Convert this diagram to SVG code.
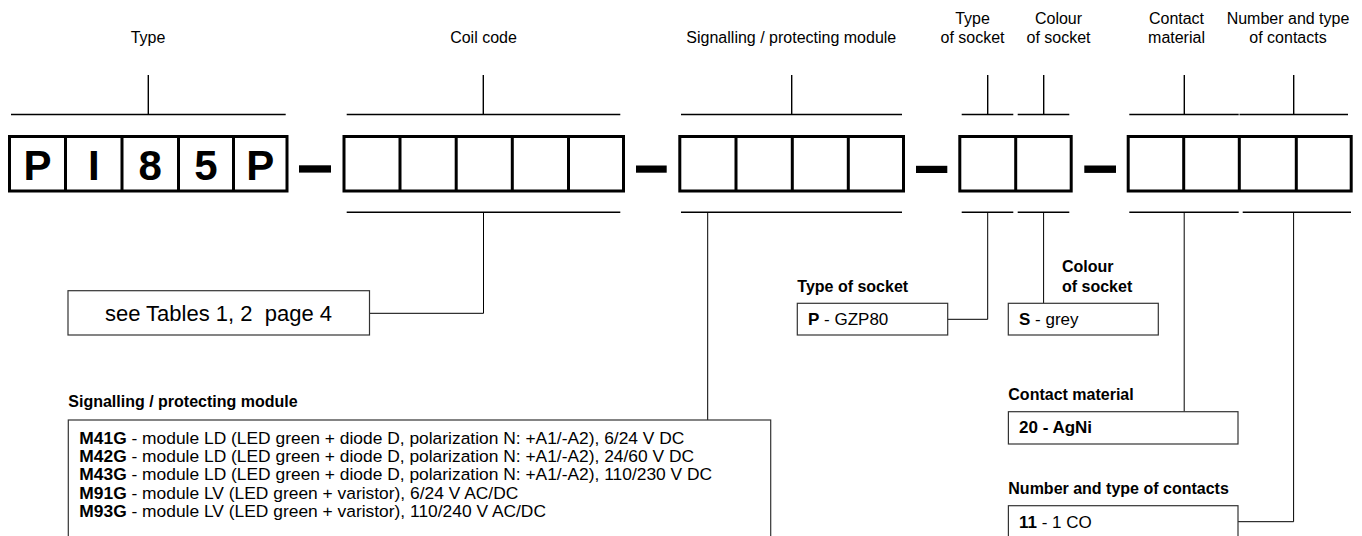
<svg xmlns="http://www.w3.org/2000/svg" width="1362" height="536" viewBox="0 0 1362 536">
<style>
  text { font-family: "Liberation Sans", Arial, Helvetica, sans-serif; fill: #000; }
  .lbl { font-size: 16px; text-anchor: middle; }
  .hd { font-size: 16px; font-weight: bold; }
  .bx { font-size: 17px; }
  .ml { font-size: 17.4px; }
  .b { font-weight: bold; }
  .big { font-size: 42px; font-weight: bold; text-anchor: middle; }
  .cells { fill: #fff; stroke: #000; stroke-width: 3; }
  .div { stroke: #000; stroke-width: 3; }
  .rule { stroke: #000; stroke-width: 1.4; fill: none; }
  .con { stroke: #000; stroke-width: 1; fill: none; }
  .box { fill: #fff; stroke: #333; stroke-width: 1.2; }
  .dash { fill: #000; }
</style>
<rect width="1362" height="536" fill="#fff"/>

<!-- code fields -->
<g id="type">
  <text class="lbl" x="148" y="43">Type</text>
  <path class="rule" d="M11 114.5H285.7M148.3 75V114.5"/>
  <rect class="cells" x="9.5" y="136.5" width="277.5" height="54.5"/>
  <path class="div" d="M65.5 136.5V191M122 136.5V191M178.5 136.5V191M233.5 136.5V191"/>
  <text class="big" x="37.5" y="180">P</text>
  <text class="big" x="93.8" y="180">I</text>
  <text class="big" x="150.2" y="180">8</text>
  <text class="big" x="206" y="180">5</text>
  <text class="big" x="260.3" y="180">P</text>
</g>
<rect id="dash1" class="dash" x="299" y="165.3" width="32" height="7.3"/>

<g id="coil">
  <text class="lbl" x="483.5" y="43">Coil code</text>
  <path class="rule" d="M346.7 114.5H620.3M483.3 75V114.5M346.7 212.3H620.3"/>
  <rect class="cells" x="344" y="136.5" width="279.5" height="54.5"/>
  <path class="div" d="M400 136.5V191M456.2 136.5V191M512.3 136.5V191M568.5 136.5V191"/>
</g>
<rect id="dash2" class="dash" x="636" y="165.5" width="30.7" height="7.2"/>

<g id="module">
  <text class="lbl" x="791.3" y="43">Signalling / protecting module</text>
  <path class="rule" d="M681 114.5H902M791.7 75V114.5M681 212.3H902"/>
  <rect class="cells" x="679.8" y="136.5" width="223.7" height="54.5"/>
  <path class="div" d="M736 136.5V191M792.3 136.5V191M848.3 136.5V191"/>
</g>
<rect id="dash3" class="dash" x="916" y="165.8" width="31.3" height="7.2"/>

<g id="socket-type">
  <text class="lbl" x="972.5" y="24">Type</text>
  <text class="lbl" x="972.5" y="43">of socket</text>
  <path class="rule" d="M961.7 114.5H1013.3M987.7 75V114.5M961.7 212.3H1013.3"/>
</g>
<g id="socket-colour">
  <text class="lbl" x="1058.5" y="24">Colour</text>
  <text class="lbl" x="1058.5" y="43">of socket</text>
  <path class="rule" d="M1017.7 114.5H1069.3M1043.7 75V114.5M1017.7 212.3H1069.3"/>
</g>
<g id="socket-cells">
  <rect class="cells" x="959.8" y="136.5" width="111.4" height="54.5"/>
  <path class="div" d="M1015.7 136.5V191"/>
</g>
<rect id="dash4" class="dash" x="1084.3" y="165.5" width="31.7" height="7.4"/>

<g id="contact-material">
  <text class="lbl" x="1176.5" y="24">Contact</text>
  <text class="lbl" x="1176.5" y="43">material</text>
  <path class="rule" d="M1129.3 114.5H1238.7M1184.3 75V114.5M1129.3 212.3H1238.7"/>
</g>
<g id="contacts">
  <text class="lbl" x="1288" y="24">Number and type</text>
  <text class="lbl" x="1288" y="43">of contacts</text>
  <path class="rule" d="M1239.5 114.5H1348M1293.7 75V114.5M1242.7 212.3H1351"/>
</g>
<g id="contact-cells">
  <rect class="cells" x="1128.2" y="136.5" width="223" height="54.5"/>
  <path class="div" d="M1183.7 136.5V191M1239.3 136.5V191M1296.3 136.5V191"/>
</g>

<!-- connectors -->
<g id="connectors">
  <path class="con" d="M483.5 212.3V313.3H369.5"/>
  <path class="con" d="M707.7 212.3V420"/>
  <path class="con" d="M987.7 212.3V319.3H947.7"/>
  <path class="con" d="M1043.6 212.3V303.3"/>
  <path class="con" d="M1184.2 212.3V411.7"/>
  <path class="con" d="M1293.6 212.3V521.7H1238"/>
</g>

<!-- detail boxes -->
<g id="coil-note">
  <rect class="box" x="68" y="290.7" width="301.5" height="44.3"/>
  <text x="218.5" y="320.5" style="font-size:22px;text-anchor:middle;white-space:pre" xml:space="preserve">see Tables 1, 2  page 4</text>
</g>

<g id="module-list">
  <text class="hd" x="68.3" y="406.7">Signalling / protecting module</text>
  <rect class="box" x="68.3" y="420" width="702.4" height="130"/>
  <text class="ml" x="79.3" y="444"><tspan class="b">M41G</tspan> - module LD (LED green + diode D, polarization N: +A1/-A2), 6/24 V DC</text>
  <text class="ml" x="79.3" y="462.2"><tspan class="b">M42G</tspan> - module LD (LED green + diode D, polarization N: +A1/-A2), 24/60 V DC</text>
  <text class="ml" x="79.3" y="480.4"><tspan class="b">M43G</tspan> - module LD (LED green + diode D, polarization N: +A1/-A2), 110/230 V DC</text>
  <text class="ml" x="79.3" y="498.6"><tspan class="b">M91G</tspan> - module LV (LED green + varistor), 6/24 V AC/DC</text>
  <text class="ml" x="79.3" y="516.8"><tspan class="b">M93G</tspan> - module LV (LED green + varistor), 110/240 V AC/DC</text>
</g>

<g id="socket-type-list">
  <text class="hd" x="797.3" y="291.7">Type of socket</text>
  <rect class="box" x="797.3" y="303.3" width="150.4" height="31.7"/>
  <text class="bx" x="808" y="325"><tspan class="b">P</tspan> - GZP80</text>
</g>

<g id="socket-colour-list">
  <text class="hd" x="1062" y="271.7">Colour</text>
  <text class="hd" x="1062" y="291.7">of socket</text>
  <rect class="box" x="1008.3" y="303.3" width="150" height="31.7"/>
  <text class="bx" x="1019" y="325"><tspan class="b">S</tspan> - grey</text>
</g>

<g id="contact-material-list">
  <text class="hd" x="1008.3" y="400">Contact material</text>
  <rect class="box" x="1008.4" y="411.7" width="229.6" height="32.3"/>
  <text class="bx b" x="1019" y="433.3">20 - AgNi</text>
</g>

<g id="contacts-list">
  <text class="hd" x="1008.3" y="494">Number and type of contacts</text>
  <rect class="box" x="1008.4" y="505.7" width="229.6" height="40"/>
  <text class="bx" x="1019" y="528.3"><tspan class="b">11</tspan> - 1 CO</text>
</g>
</svg>
